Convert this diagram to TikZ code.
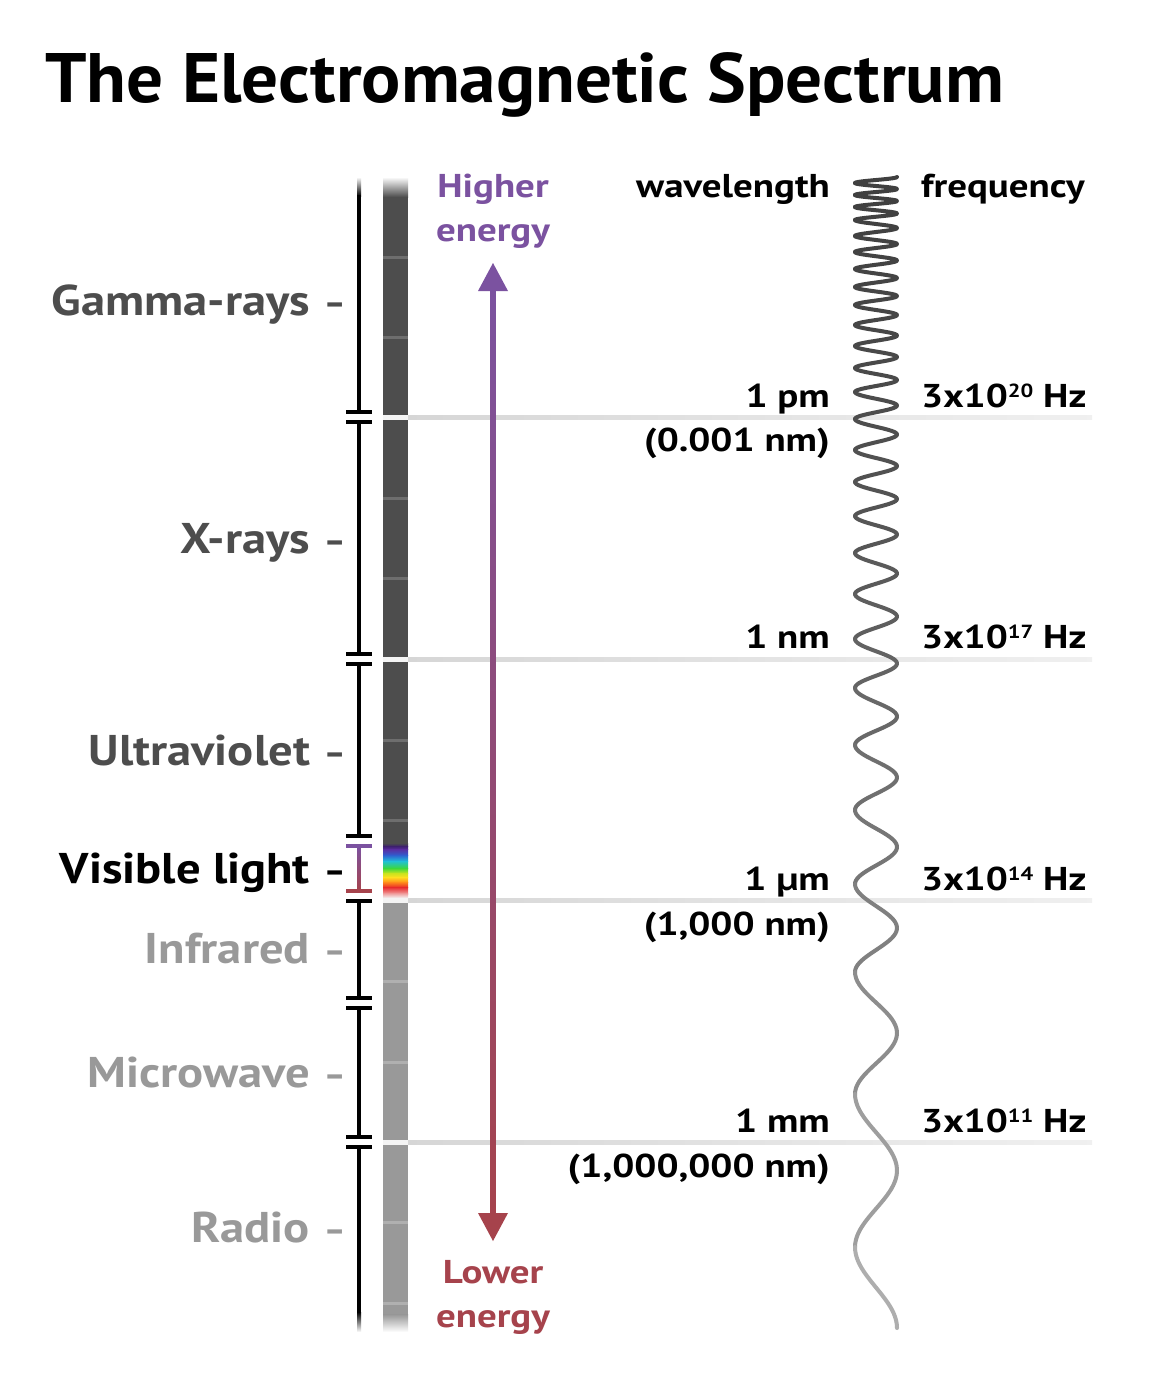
\documentclass[tikz,border=0pt]{standalone}
\usepackage{graphicx}
\usepackage{fontspec}
\setmainfont{PT Sans}
\newfontfamily\titlefont[FakeStretch=1.045]{PT Sans}
\newfontfamily\lblfont[FakeStretch=1.13]{PT Sans}
\newfontfamily\rtfont[FakeStretch=1.18]{PT Sans}
\definecolor{dkg}{HTML}{4D4D4D}
\definecolor{ltg}{HTML}{999999}
\definecolor{hiE}{HTML}{7B52A0}
\definecolor{loE}{HTML}{A6434C}
\definecolor{sepc}{HTML}{F4F4F4}
\definecolor{tickd}{HTML}{6E6E6E}
\definecolor{tickl}{HTML}{B0B0B0}
\definecolor{sp1}{HTML}{3D1F6E}
\definecolor{sp2}{HTML}{5A2CA0}
\definecolor{sp3}{HTML}{2F5FD0}
\definecolor{sp4}{HTML}{20C0D8}
\definecolor{sp5}{HTML}{3CD83C}
\definecolor{sp6}{HTML}{C8E41E}
\definecolor{sp7}{HTML}{FFE020}
\definecolor{sp8}{HTML}{FF8C1A}
\definecolor{sp9}{HTML}{E8282A}
\definecolor{sp10}{HTML}{F0A0A0}
\newcommand\supx[1]{\raisebox{10pt}{\fontsize{19}{19}\selectfont #1}}
\newcommand\dsh{\hspace{14pt}\scalebox{0.68}[0.85]{–}}
\tikzset{
  lbl/.style={anchor=base east, inner sep=0pt, font=\lblfont\bfseries\fontsize{43}{50}\selectfont},
  rt/.style={anchor=base east, inner sep=0pt, font=\rtfont\bfseries\fontsize{33}{38}\selectfont},
  lt/.style={anchor=base west, inner sep=0pt, font=\rtfont\bfseries\fontsize{33}{38}\selectfont},
  en/.style={anchor=base, inner sep=0pt, font=\rtfont\bfseries\fontsize{33}{38}\selectfont},
  brk/.style={line width=4pt},
  wv/.style={line width=4pt, line cap=round, line join=round},
}
\begin{document}
\begin{tikzpicture}[x=1pt,y=-1pt]
\fill[white] (0,0) rectangle (1170,1384);
\useasboundingbox (0,0) rectangle (1170,1384);

% title
\node[anchor=base west, inner sep=0pt, font=\titlefont\bfseries\fontsize{70}{84}\selectfont] (title) at (45,102) {The Electromagnetic Spectrum};

% horizontal guide lines
\foreach \y in {417,659,900,1142}{
  \shade[left color=black!16, right color=black!6] (408,\y-2) rectangle (1092,\y+2);
}

% spectrum bar
\shade[top color=white, bottom color=dkg] (383,177) rectangle (408,197);
\fill[dkg] (383,196.5) rectangle (408,843.5);
\shade[top color=dkg, bottom color=sp1] (383,843) rectangle (408,846.5);
\shade[top color=sp1, bottom color=sp2] (383,846) rectangle (408,849.5);
\shade[top color=sp2, bottom color=sp3] (383,849) rectangle (408,855.5);
\shade[top color=sp3, bottom color=sp4] (383,855) rectangle (408,861.5);
\shade[top color=sp4, bottom color=sp5] (383,861) rectangle (408,868.5);
\shade[top color=sp5, bottom color=sp6] (383,868) rectangle (408,873.5);
\shade[top color=sp6, bottom color=sp7] (383,873) rectangle (408,877.5);
\shade[top color=sp7, bottom color=sp8] (383,877) rectangle (408,882.5);
\shade[top color=sp8, bottom color=sp9] (383,882) rectangle (408,887.5);
\shade[top color=sp9, bottom color=sp10] (383,887) rectangle (408,894);
\shade[top color=sp10, bottom color=sepc] (383,893.5) rectangle (408,898);
\fill[ltg] (383,902) rectangle (408,1315);
\shade[top color=ltg, bottom color=white] (383,1314.5) rectangle (408,1332);
\foreach \y in {257,337,498,578,740,820}{
  \fill[tickd] (383,\y-1.5) rectangle (408,\y+1.5);
}
\foreach \y in {981,1062,1222,1303}{
  \fill[tickl] (383,\y-1.5) rectangle (408,\y+1.5);
}
\foreach \y in {417,659,900,1142}{
  \fill[sepc] (383,\y-2.5) rectangle (408,\y+2.5);
}

% left brackets
\shade[top color=white, bottom color=black] (357,177) rectangle (361,196);
\draw[brk] (359,195) -- (359,412) (346,412) -- (372,412);
\draw[brk] (346,422) -- (372,422) (359,422) -- (359,654) (346,654) -- (372,654);
\draw[brk] (346,664) -- (372,664) (359,664) -- (359,836) (346,836) -- (372,836);
\shade[top color=hiE, bottom color=loE] (357.5,846) rectangle (360.5,891);
\draw[brk, hiE] (346,846) -- (372,846);
\draw[brk, loE] (346,891) -- (372,891);
\draw[brk] (346,901) -- (372,901) (359,901) -- (359,998) (346,998) -- (372,998);
\draw[brk] (346,1008) -- (372,1008) (359,1008) -- (359,1137) (346,1137) -- (372,1137);
\draw[brk] (346,1147) -- (372,1147) (359,1147) -- (359,1313);
\shade[top color=black, bottom color=white] (357,1312) rectangle (361,1332);

% left labels
\node[lbl, text=dkg] (gamma) at (346,315) {Gamma-rays\dsh};
\node[lbl, text=dkg] (xray) at (346,553) {X-rays\dsh};
\node[lbl, text=dkg] (uv) at (346,765) {Ultraviolet\dsh};
\node[lbl, text=black] (vis) at (346,883) {Visible light\dsh};
\node[lbl, text=ltg] (ir) at (346,963) {Infrared\dsh};
\node[lbl, text=ltg] (micro) at (346,1087) {Microwave\dsh};
\node[lbl, text=ltg] (radio) at (346,1242) {Radio\dsh};

% energy arrow
\node[en, text=hiE] (hi1) at (493,197) {Higher};
\node[en, text=hiE] (hi2) at (493,241) {energy};
\node[en, text=loE] (lo1) at (493,1283) {Lower};
\node[en, text=loE] (lo2) at (493,1327) {energy};
\shade[top color=hiE, bottom color=loE] (490.5,286) rectangle (495.5,1218);
\fill[hiE] (493,263) -- (508,291) -- (478,291) -- cycle;
\fill[loE] (493,1241) -- (508,1213) -- (478,1213) -- cycle;

% wavelength / frequency labels
\node[rt] (wl) at (830,197) {wavelength};
\node[lt] (fr) at (921,197) {frequency};
\node[rt] (w1) at (830,407) {1 pm};
\node[rt] (w1b) at (830,451) {(0.001 nm)};
\node[rt] (w2) at (830,648) {1 nm};
\node[rt] (w3) at (830,890) {1 µm};
\node[rt] (w3b) at (830,935) {(1,000 nm)};
\node[rt] (w4) at (830,1132) {1 mm};
\node[rt] (w4b) at (830,1177) {(1,000,000 nm)};
\node[lt] (f1) at (921,407) {3x10\supx{20} Hz};
\node[lt] (f2) at (921,648) {3x10\supx{17} Hz};
\node[lt] (f3) at (921,890) {3x10\supx{14} Hz};
\node[lt] (f4) at (921,1132) {3x10\supx{11} Hz};

% chirped wave: one cycle between consecutive left extremes
\pgfmathsetmacro\pcA{100-(64+116*0.001)/2.55}
\draw[wv, color=black!\pcA] plot[domain=0:1, samples=12, smooth, variable=\s]
  ({876+21*cos(180*\s)}, {177+6*\s});
\foreach \a/\b in {183/195,195/207,207/220,220/236,236/252,252/269,269/287,287/305,305/325,325/346,346/368,368/392,392/419,419/450,450/482,482/516,516/553,553/594,594/639,639/688,688/745,745/810,810/884,884/972,972/1094,1094/1247}{
  \pgfmathsetmacro\fr{max((0.5*(\a+\b)-180)/1148,0.001)}
  \pgfmathsetmacro\pc{100-(64+116*\fr^1.4)/2.55}
  \draw[wv, color=black!\pc] plot[domain=0:1, samples=40, smooth, variable=\s]
    ({876-21*cos(360*\s)}, {\a+\s*(\b-\a)});
}
\pgfmathsetmacro\pcZ{100-(64+116*((1288-180)/1148)^1.4)/2.55}
\draw[wv, color=black!\pcZ] plot[domain=0:1, samples=24, smooth, variable=\s]
  ({876-21*cos(180*\s)}, {1247+81*\s});
\end{tikzpicture}
\end{document}
